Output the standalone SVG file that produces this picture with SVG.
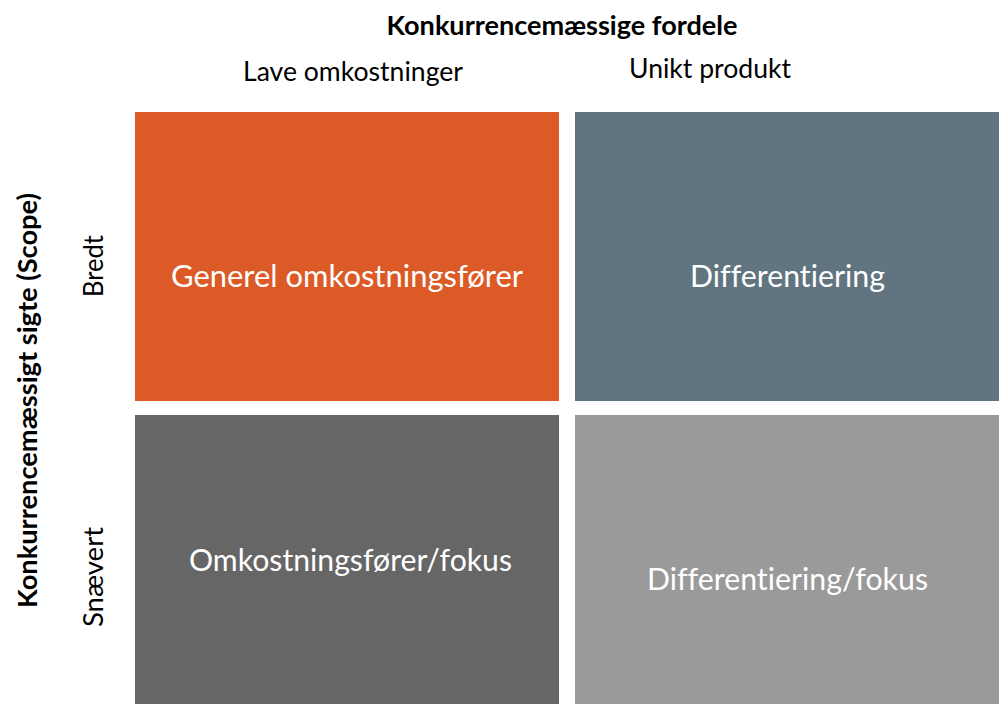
<svg xmlns="http://www.w3.org/2000/svg" width="999" height="704" viewBox="0 0 999 704">
<style>
text{font-family:Lato,"Open Sans","Liberation Sans",sans-serif;font-variant-ligatures:none;font-feature-settings:"liga" 0,"clig" 0;}
.hdr{font-size:27px;fill:#000;}
.bold{font-weight:bold;}
.cell{font-size:31px;fill:#fff;text-anchor:middle;}
</style>
<rect width="999" height="704" fill="#fff"/>
<g id="title"><text class="hdr bold" x="386.5" y="35" textLength="351" lengthAdjust="spacingAndGlyphs">Konkurrencemæssige fordele</text></g>
<g id="col-low"><text class="hdr" x="243" y="80.5" textLength="220" lengthAdjust="spacingAndGlyphs">Lave omkostninger</text></g>
<g id="col-unique"><text class="hdr" x="629" y="78" textLength="162" lengthAdjust="spacingAndGlyphs">Unikt produkt</text></g>
<g id="axis-scope"><text class="hdr bold" transform="translate(37,608) rotate(-90)" x="0" y="0" textLength="415" lengthAdjust="spacingAndGlyphs">Konkurrencemæssigt sigte (Scope)</text></g>
<g id="row-broad"><text class="hdr" transform="translate(103,297) rotate(-90)" x="0" y="0" textLength="62" lengthAdjust="spacingAndGlyphs">Bredt</text></g>
<g id="row-narrow"><text class="hdr" transform="translate(103,627) rotate(-90)" x="0" y="0" textLength="100" lengthAdjust="spacingAndGlyphs">Snævert</text></g>
<g id="cell-cost-leader">
<rect x="135" y="112" width="424" height="289" fill="#DC5A26"/>
<text class="cell" x="347" y="287" textLength="352" lengthAdjust="spacingAndGlyphs">Generel omkostningsfører</text>
</g>
<g id="cell-differentiation">
<rect x="575" y="112" width="424" height="289" fill="#607580"/>
<text class="cell" x="787.5" y="287" textLength="195" lengthAdjust="spacingAndGlyphs">Differentiering</text>
</g>
<g id="cell-cost-focus">
<rect x="135" y="415" width="424" height="289" fill="#666666"/>
<text class="cell" x="350.5" y="571" textLength="323" lengthAdjust="spacingAndGlyphs">Omkostningsfører/fokus</text>
</g>
<g id="cell-diff-focus">
<rect x="575" y="415" width="424" height="289" fill="#9A9A9A"/>
<text class="cell" x="787.5" y="590" textLength="281" lengthAdjust="spacingAndGlyphs">Differentiering/fokus</text>
</g>
<g id="connectors"/>
</svg>
